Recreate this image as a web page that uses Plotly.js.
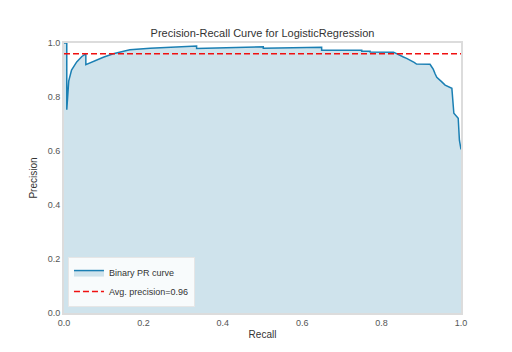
<!DOCTYPE html>
<html>
<head>
<meta charset="utf-8">
<script src="https://cdn.plot.ly/plotly-3.0.1.min.js"></script>
<style>html,body{margin:0;padding:0;background:#fff;}#chart{width:512px;height:352px;}</style>
</head>
<body>
<div id="chart"></div>
<script>
const recall = [0, 0.007, 0.007, 0.009, 0.012, 0.019, 0.032, 0.045, 0.055, 0.055, 0.074, 0.099, 0.124, 0.141, 0.166, 0.217, 0.267, 0.334, 0.334, 0.42, 0.502, 0.502, 0.649, 0.649, 0.75, 0.75, 0.771, 0.771, 0.83, 0.838, 0.846, 0.855, 0.863, 0.87, 0.876, 0.882, 0.888, 0.922, 0.926, 0.930, 0.935, 0.939, 0.951, 0.96, 0.977, 0.982, 0.993, 0.996, 1.0];
const precision = [1, 1, 0.753, 0.80, 0.86, 0.90, 0.93, 0.95, 0.96, 0.92, 0.932, 0.947, 0.96, 0.967, 0.975, 0.981, 0.985, 0.989, 0.980, 0.983, 0.986, 0.981, 0.984, 0.973, 0.973, 0.969, 0.969, 0.967, 0.966, 0.96, 0.952, 0.948, 0.943, 0.938, 0.934, 0.928, 0.922, 0.921, 0.912, 0.903, 0.885, 0.873, 0.857, 0.844, 0.832, 0.74, 0.721, 0.64, 0.606];
const avgPrecision = 0.96;
const avgX = [0, 1];
const avgY = [avgPrecision, avgPrecision];
const tickVals = [0, 0.2, 0.4, 0.6, 0.8, 1.0];
const tickText = ['0.0', '0.2', '0.4', '0.6', '0.8', '1.0'];

const traces = [
  {x: recall, y: precision, type: 'scatter', mode: 'lines', name: 'Binary PR curve',
   line: {color: '#1a7fb3', width: 1.5}, fill: 'tozeroy', fillcolor: '#cfe3ec'},
  {x: avgX, y: avgY, type: 'scatter', mode: 'lines', name: 'Avg. precision=' + avgPrecision.toFixed(2),
   line: {color: '#f01010', width: 1.5, dash: '6px,3px'}}
];

const axisCommon = {
  range: [0, 1], tickvals: tickVals, ticktext: tickText, showgrid: false, zeroline: false,
  showline: true, mirror: true, linecolor: '#dcdcdc', linewidth: 2, ticks: '',
  tickfont: {size: 9, color: '#555'}
};

const layout = {
  width: 512, height: 352,
  margin: {l: 64, r: 51, t: 43, b: 39},
  paper_bgcolor: '#fff', plot_bgcolor: '#fff',
  font: {family: 'Liberation Sans, Arial, sans-serif', color: '#333'},
  title: {text: 'Precision-Recall Curve for LogisticRegression', font: {size: 11, color: '#333'},
          x: 0.5, xref: 'paper', y: 0.906, yanchor: 'middle'},
  xaxis: Object.assign({}, axisCommon, {title: {text: 'Recall', font: {size: 10, color: '#333'}, standoff: 4}}),
  yaxis: Object.assign({}, axisCommon, {title: {text: 'Precision', font: {size: 10, color: '#333'}, standoff: 8}}),
  showlegend: true,
  legend: {x: 0.01, y: 0.022, xanchor: 'left', yanchor: 'bottom', bgcolor: 'rgba(255,255,255,0.85)',
           bordercolor: '#e6e6e6', borderwidth: 1, font: {size: 9, color: '#333'},
           tracegroupgap: 0, itemwidth: 30}
};

Plotly.newPlot('chart', traces, layout, {displayModeBar: false, staticPlot: true});
</script>
</body>
</html>
